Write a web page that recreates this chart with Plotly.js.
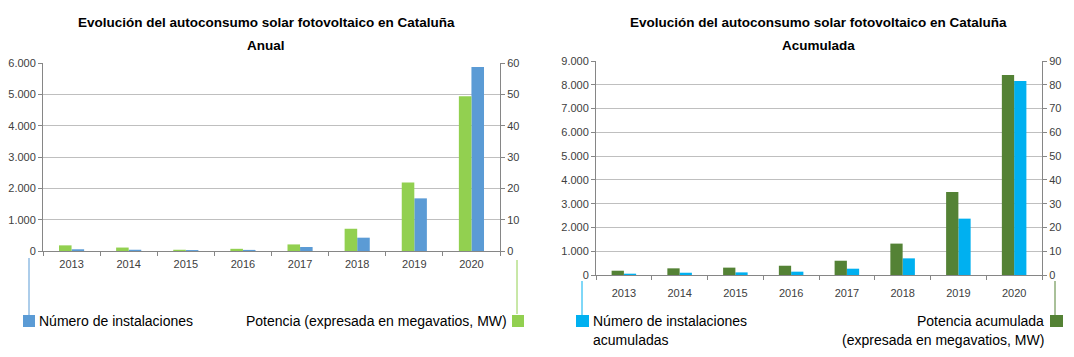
<!DOCTYPE html>
<html>
<head>
<meta charset="utf-8">
<script src="https://cdn.plot.ly/plotly-3.0.1.min.js"></script>
<style>html,body{margin:0;padding:0;background:#fff;}#chart{width:1074px;height:357px;}</style>
</head>
<body>
<div id="chart"></div>
<script>
// ---- data ----
const years = ['2013', '2014', '2015', '2016', '2017', '2018', '2019', '2020'];
const instalacionesAnual = [55, 40, 30, 35, 127, 425, 1680, 5870];
const potenciaAnualMW = [1.8, 1.1, 0.4, 0.7, 2.1, 7.1, 21.9, 49.4];
const instalacionesAcumuladas = [55, 95, 110, 140, 265, 700, 2370, 8160];
const potenciaAcumuladaMW = [1.8, 2.8, 3.1, 3.9, 6.0, 13.2, 34.9, 84.1];
const titleMain = 'Evolución del autoconsumo solar fotovoltaico en Cataluña';
const subLeft = 'Anual';
const subRight = 'Acumulada';

// ---- layout helpers ----
const W = 1074, H = 357;
const px = x => x / W;
const py = y => 1 - y / H;
const FONT = 'Liberation Sans, Arial, sans-serif';
const axisCol = '#868686';
const gridCol = '#BFBFBF';
const tickFont = {family: FONT, size: 11, color: '#404040'};

const cLeftBlue = '#5B9BD5', cLeftGreen = '#92D050';
const cRightBlue = '#00B0F0', cRightGreen = '#548235';

const traces = [
  {type: 'bar', x: years, y: potenciaAnualMW, xaxis: 'x', yaxis: 'y2', offsetgroup: 'g1',
   marker: {color: cLeftGreen}, name: 'Potencia (expresada en megavatios, MW)', hoverinfo: 'x+y'},
  {type: 'bar', x: years, y: instalacionesAnual, xaxis: 'x', yaxis: 'y', offsetgroup: 'g2',
   marker: {color: cLeftBlue}, name: 'Número de instalaciones', hoverinfo: 'x+y'},
  {type: 'bar', x: years, y: potenciaAcumuladaMW, xaxis: 'x2', yaxis: 'y4', offsetgroup: 'g3',
   marker: {color: cRightGreen}, name: 'Potencia acumulada (expresada en megavatios, MW)', hoverinfo: 'x+y'},
  {type: 'bar', x: years, y: instalacionesAcumuladas, xaxis: 'x2', yaxis: 'y3', offsetgroup: 'g4',
   marker: {color: cRightBlue}, name: 'Número de instalaciones acumuladas', hoverinfo: 'x+y'}
];

const xCommon = {
  type: 'category', showline: true, linecolor: axisCol, linewidth: 1,
  ticks: 'outside', tickson: 'boundaries', ticklen: 4, tickcolor: axisCol,
  showgrid: false, zeroline: false, tickfont: tickFont, automargin: false, fixedrange: true
};
const yCommon = {
  showline: true, linecolor: axisCol, linewidth: 1, ticks: 'outside', ticklen: 4,
  tickcolor: axisCol, zeroline: false, tickfont: tickFont, automargin: false, fixedrange: true
};

const leftDom = [py(251), py(63)];
const rightDom = [py(275), py(61)];

const titleFont = {family: FONT, size: 13.5, color: '#000'};
const legFont = {family: FONT, size: 14, color: '#000'};

const layout = {
  width: W, height: H,
  margin: {l: 0, r: 0, t: 0, b: 0, pad: 0},
  paper_bgcolor: '#ffffff', plot_bgcolor: '#ffffff',
  separators: ',.',
  showlegend: false,
  barmode: 'group', bargap: 0.56, bargroupgap: 0,
  font: {family: FONT, color: '#000'},
  xaxis: Object.assign({}, xCommon, {domain: [px(43), px(500)], anchor: 'y', ticklabelstandoff: 3}),
  yaxis: Object.assign({}, yCommon, {domain: leftDom, anchor: 'x', range: [0, 6000], dtick: 1000,
    tickformat: ',d', showgrid: true, gridcolor: gridCol, gridwidth: 1}),
  yaxis2: Object.assign({}, yCommon, {overlaying: 'y', anchor: 'x', side: 'right', range: [0, 60],
    dtick: 10, showgrid: false}),
  xaxis2: Object.assign({}, xCommon, {domain: [px(596), px(1042)], anchor: 'y3', ticklabelstandoff: 8}),
  yaxis3: Object.assign({}, yCommon, {domain: rightDom, anchor: 'x2', range: [0, 9000], dtick: 1000,
    tickformat: ',d', showgrid: true, gridcolor: gridCol, gridwidth: 1}),
  yaxis4: Object.assign({}, yCommon, {overlaying: 'y3', anchor: 'x2', side: 'right', range: [0, 90],
    dtick: 10, showgrid: false}),
  annotations: [
    {text: '<b>' + titleMain + '</b>', xref: 'paper', yref: 'paper', x: px(266), y: py(23),
     xanchor: 'center', yanchor: 'middle', showarrow: false, font: titleFont},
    {text: '<b>' + subLeft + '</b>', xref: 'paper', yref: 'paper', x: px(266), y: py(46),
     xanchor: 'center', yanchor: 'middle', showarrow: false, font: titleFont},
    {text: '<b>' + titleMain + '</b>', xref: 'paper', yref: 'paper', x: px(818), y: py(23),
     xanchor: 'center', yanchor: 'middle', showarrow: false, font: titleFont},
    {text: '<b>' + subRight + '</b>', xref: 'paper', yref: 'paper', x: px(818), y: py(46),
     xanchor: 'center', yanchor: 'middle', showarrow: false, font: titleFont},
    // legends
    {text: 'Número de instalaciones', xref: 'paper', yref: 'paper', x: px(37), y: py(321),
     xanchor: 'left', yanchor: 'middle', showarrow: false, font: legFont},
    {text: 'Potencia (expresada en megavatios, MW)', xref: 'paper', yref: 'paper', x: px(509), y: py(321),
     xanchor: 'right', yanchor: 'middle', showarrow: false, font: legFont},
    {text: 'Número de instalaciones', xref: 'paper', yref: 'paper', x: px(591), y: py(321),
     xanchor: 'left', yanchor: 'middle', showarrow: false, font: legFont},
    {text: 'acumuladas', xref: 'paper', yref: 'paper', x: px(591), y: py(340),
     xanchor: 'left', yanchor: 'middle', showarrow: false, font: legFont},
    {text: 'Potencia acumulada', xref: 'paper', yref: 'paper', x: px(1046), y: py(321),
     xanchor: 'right', yanchor: 'middle', showarrow: false, font: legFont},
    {text: '(expresada en megavatios, MW)', xref: 'paper', yref: 'paper', x: px(1046), y: py(340),
     xanchor: 'right', yanchor: 'middle', showarrow: false, font: legFont}
  ],
  shapes: [
    // left chart leader lines + legend keys
    {type: 'line', xref: 'paper', yref: 'paper', x0: px(29), x1: px(29), y0: py(258), y1: py(316),
     line: {color: cLeftBlue, width: 1}},
    {type: 'rect', xref: 'paper', yref: 'paper', x0: px(23), x1: px(35), y0: py(327), y1: py(315),
     fillcolor: cLeftBlue, line: {width: 0}},
    {type: 'line', xref: 'paper', yref: 'paper', x0: px(517), x1: px(517), y0: py(260), y1: py(314),
     line: {color: cLeftGreen, width: 1}},
    {type: 'rect', xref: 'paper', yref: 'paper', x0: px(512), x1: px(524), y0: py(327), y1: py(315),
     fillcolor: cLeftGreen, line: {width: 0}},
    // right chart
    {type: 'line', xref: 'paper', yref: 'paper', x0: px(582), x1: px(582), y0: py(281), y1: py(315),
     line: {color: cRightBlue, width: 1}},
    {type: 'rect', xref: 'paper', yref: 'paper', x0: px(576), x1: px(589), y0: py(327), y1: py(315),
     fillcolor: cRightBlue, line: {width: 0}},
    {type: 'line', xref: 'paper', yref: 'paper', x0: px(1055), x1: px(1055), y0: py(281), y1: py(315),
     line: {color: cRightGreen, width: 1}},
    {type: 'rect', xref: 'paper', yref: 'paper', x0: px(1050), x1: px(1063), y0: py(327), y1: py(315),
     fillcolor: cRightGreen, line: {width: 0}}
  ]
};

Plotly.newPlot('chart', traces, layout, {staticPlot: true, displayModeBar: false});
</script>
</body>
</html>
